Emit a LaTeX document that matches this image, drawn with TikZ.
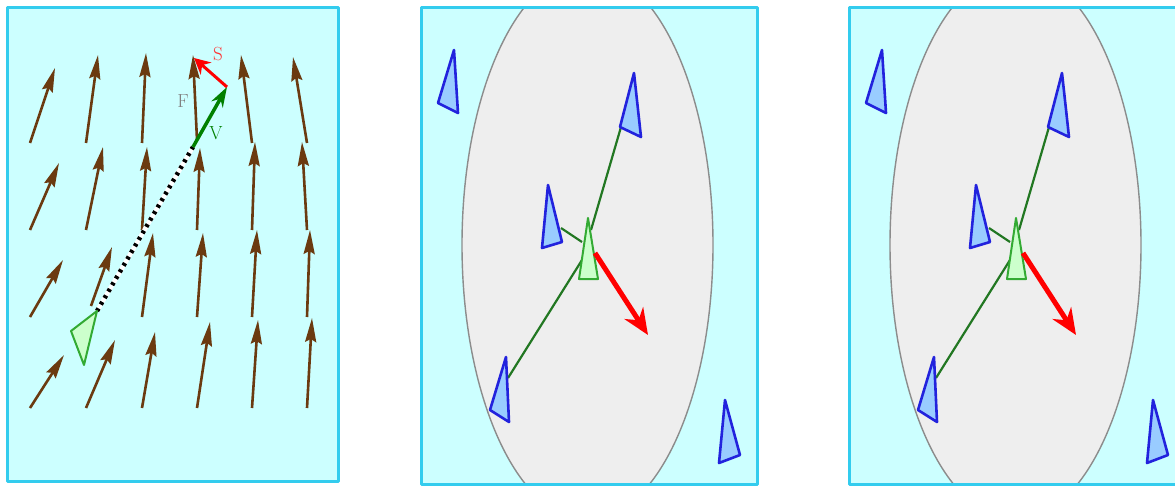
\documentclass[tikz,border=0pt]{standalone}
\usepackage{tikz}
\usetikzlibrary{arrows.meta}

\definecolor{panelfill}{HTML}{CCFFFF}
\definecolor{panelline}{HTML}{33CCEE}
\definecolor{fieldbrown}{HTML}{6B3A10}
\definecolor{agentfill}{HTML}{CCFFCC}
\definecolor{agentline}{HTML}{33AA33}
\definecolor{otherfill}{HTML}{99CCFF}
\definecolor{otherline}{HTML}{2222DD}
\definecolor{linkgreen}{HTML}{227722}
\definecolor{zonegray}{HTML}{EEEEEE}

\begin{document}
\begin{tikzpicture}[x=1pt, y=-1pt, line join=round,
    panel/.style={draw=panelline, line width=3pt},
    fieldarrow/.style={fieldbrown, line width=2.6pt, -{Stealth[length=24pt, width=11pt, inset=3pt]}},
    agent/.style={draw=agentline, fill=agentfill, line width=2pt},
    other/.style={draw=otherline, fill=otherfill, line width=2.6pt},
    link/.style={linkgreen, line width=2.2pt},
    zone/.style={draw=gray!90, fill=zonegray, line width=1.4pt},
    lbl/.style={font=\fontsize{19}{19}\selectfont, inner sep=0pt}]
  \useasboundingbox (0,0) rectangle (1175,489);
  \clip (0,0) rectangle (1175,489);

  % 1. Feld mit Pfeilen
  \fill[panelfill] (7,8) rectangle (338,481);
  \foreach \tx/\ty/\hx/\hy in {30/143/55/68, 86/143/98/55, 142/143/146/53, 197/140/193/55, 252/143/241/55, 307/143/293/57,
      30/230/59/163, 86/230/103/147, 142/230/147/147, 197/230/200/148, 252/230/255/142, 307/230/302/142,
      30/317/63/260, 91/306/112/247, 142/317/153/233, 197/317/203/233, 252/317/257/230, 307/317/310/230,
      30/408/64/355, 86/408/115/340, 142/408/155/332, 197/408/210/322, 252/408/258/320, 307/408/312/318}
    \draw[fieldarrow] (\tx,\ty) -- (\hx,\hy);
  \draw[panel] (7,8) rectangle (338,481);

  % Agent mit Spur
  \coordinate (A1) at (71,331);
  \coordinate (A2) at (97,311);
  \coordinate (A3) at (84,365);
  \coordinate (P) at (193,147);
  \coordinate (Q) at (227,87);
  \coordinate (R) at (194,58);
  \draw[white, line width=4.5pt] (A2) -- (P);
  \draw[black, line width=4.5pt, dash pattern=on 3pt off 4.5pt] (A2) -- (P);
  \draw[agent] (A1) -- (A2) -- (A3) -- cycle;

  % Geschwindigkeit V und Steuerung S
  \draw[green!50!black, line width=3.5pt, -{Stealth[length=20pt, width=13pt]}] (P) -- (Q);
  \draw[red, line width=3pt, -{Stealth[length=16pt, width=16pt]}] (Q) -- (R);
  \node[lbl, text=gray] (F) at (183,101) {F};
  \node[lbl, text=green!50!black] (V) at (216,133) {V};
  \node[lbl, text=red!80] (S) at (218,54) {S};

  % 2. + 3. Nachbarschaft (zweimal, verschoben)
  \foreach \off in {0, 428} {
    \begin{scope}[xshift=\off pt]
      \fill[panelfill] (421,8) rectangle (757,484);
      \begin{scope}
        \clip (421,8) rectangle (757,484);
        \draw[zone] (587.5,245) ellipse [x radius=125.5, y radius=275];
      \end{scope}
      \draw[panel] (421,8) rectangle (757,484);

      % Verbindungen zu den Nachbarn
      \coordinate (N2) at (621,127);
      \coordinate (N3) at (561,228);
      \coordinate (N4) at (508,378);
      \coordinate (C2) at (591,230);
      \coordinate (C3) at (582,242);
      \coordinate (C4) at (582,260);
      \draw[link] (N2) -- (C2);
      \draw[link] (N3) -- (C3);
      \draw[link] (N4) -- (C4);

      % Nachbarn
      \draw[other] (454,50) -- (438,103) -- (458,113) -- cycle;
      \draw[other] (634,73) -- (620,127) -- (641,137) -- cycle;
      \draw[other] (548,185) -- (542,248) -- (562,242) -- cycle;
      \draw[other] (506,357) -- (490,410) -- (509,422) -- cycle;
      \draw[other] (725,400) -- (719,463) -- (740,455) -- cycle;

      % Agent und Steuerkraft
      \draw[agent] (588,218) -- (579,279) -- (598,279) -- cycle;
      \coordinate (M) at (595,253);
      \coordinate (T) at (648,335);
      \draw[red, line width=5pt, -{Stealth[length=26pt, width=22pt]}] (M) -- (T);
    \end{scope}
  }
\end{tikzpicture}
\end{document}
